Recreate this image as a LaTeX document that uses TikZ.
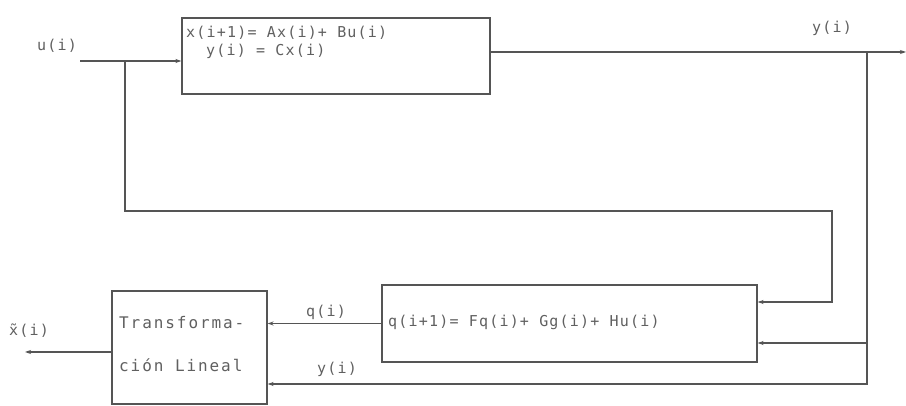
\documentclass[tikz,border=0pt]{standalone}
\usepackage{fontspec}
\setmainfont{DejaVu Sans Mono}[LetterSpace=8]
\usetikzlibrary{arrows.meta}
\definecolor{ink}{HTML}{555555}
\definecolor{txt}{HTML}{606060}
\tikzset{
  box/.style={draw=ink, line width=1.1pt, rectangle, inner sep=0pt},
  wire/.style={draw=ink, line width=1.1pt},
  arr/.style={wire, -{Stealth[length=6pt,width=4pt]}},
  lbl/.style={text=txt, font=\fontsize{15}{17}\selectfont, inner sep=0pt},
  tlbl/.style={lbl, font=\fontsize{16}{18}\selectfont\addfontfeature{LetterSpace=12}},
}
\begin{document}
\begin{tikzpicture}[x=1pt,y=-1pt]
\useasboundingbox[fill=white] (0,0) rectangle (906,406);
% blocks
\node[box, minimum width=308pt, minimum height=76pt] (sys) at (336,56) {};
\node[box, minimum width=375pt, minimum height=77pt] (qb) at (569.5,323.5) {};
\node[box, minimum width=155pt, minimum height=113pt] (tl) at (189.5,347.5) {};
% block texts
\node[lbl, anchor=west] (s1) at (186,33) {x(i+1)= Ax(i)+ Bu(i)};
\node[lbl, anchor=west] (s2) at (206,51) {y(i) = Cx(i)};
\node[lbl, anchor=west] (q1) at (388,322) {q(i+1)= Fq(i)+ Gg(i)+ Hu(i)};
\node[tlbl, anchor=west] (t1) at (119,323) {Transforma-};
\node[tlbl, anchor=west] (t2) at (119,365) {ción Lineal};
% signal labels
\node[lbl] (ul) at (57,46) {u(i)};
\node[lbl] (yl) at (832,28) {y(i)};
\node[lbl] (ql) at (326,312) {q(i)};
\node[lbl] (yl2) at (337,369) {y(i)};
\node[lbl] (xl) at (29,331) {x̃(i)};
% coordinates
\coordinate (uin) at (80,61);
\coordinate (br) at (125,61);
\coordinate (lc1) at (125,211);
\coordinate (lc2) at (832,211);
\coordinate (lc3) at (832,302);
\coordinate (yout) at (906,52);
\coordinate (rv) at (867,52);
\coordinate (rvm) at (867,343);
\coordinate (rvb) at (867,384);
\coordinate (xo) at (25,352);
% connectors
\draw[arr] (uin) -- (uin -| sys.west);
\draw[arr] (yout -| sys.east) -- (yout);
\draw[arr] (br) -- (lc1) -- (lc2) -- (lc3) -- (lc3 -| qb.east);
\draw[arr] (rv) -- (rvm) -- (rvm -| qb.east);
\draw[arr] (rvm) -- (rvb) -- (rvb -| tl.east);
\draw[arr] (qb.west) -- (qb.west -| tl.east);
\draw[arr] (xo -| tl.west) -- (xo);
\end{tikzpicture}
\end{document}
